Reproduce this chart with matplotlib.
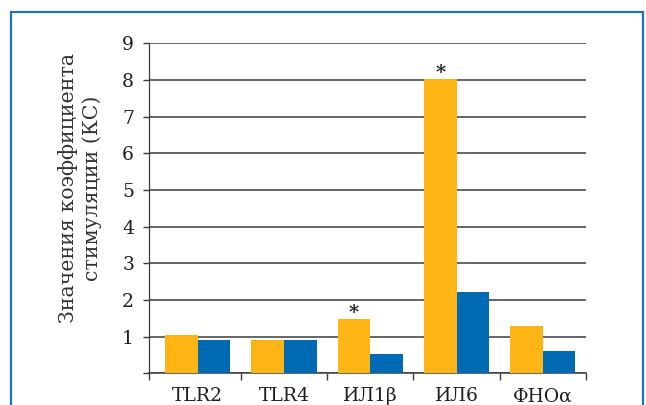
import numpy as np
import matplotlib
matplotlib.use("Agg")
import matplotlib.pyplot as plt
from matplotlib.patches import Rectangle

categories = ["TLR2", "TLR4", "ИЛ1β", "ИЛ6", "ФНОα"]
series_a = [1.04, 0.92, 1.47, 8.03, 1.30]
series_b = [0.92, 0.92, 0.52, 2.22, 0.61]
marks_a = ["", "", "*", "*", ""]
y_ticks = [0, 1, 2, 3, 4, 5, 6, 7, 8, 9]
y_label = "Значения коэффициента\nстимуляции (КС)"

ORANGE = "#FDB515"
BLUE = "#006AB5"
FRAME = "#1C72BE"
LINE = "#3c3c3c"

plt.rcParams["font.family"] = ["DejaVu Serif"]

W, H = 646, 405
fig = plt.figure(figsize=(W / 100, H / 100), dpi=100)
fig.patch.set_facecolor("white")

# plot area in pixel terms
left, right, top, bottom = 149, 586, 43.3, 373.3
ax = fig.add_axes([left / W, 1 - bottom / H, (right - left) / W, (bottom - top) / H])

x = np.arange(len(categories))
w = 0.377
bars_a = ax.bar(x - w / 2, series_a, width=w, color=ORANGE, zorder=3)
ax.bar(x + w / 2, series_b, width=w, color=BLUE, zorder=3)

for rect, mark in zip(bars_a, marks_a):
    if mark:
        ax.annotate(mark, (rect.get_x() + rect.get_width() / 2, rect.get_height()),
                    xytext=(0, -2), textcoords="offset points",
                    ha="center", va="bottom", fontsize=14, fontweight="bold",
                    color="#222222")

ax.set_xlim(-0.565, 4.5)
ax.set_ylim(0, 9)

ax.set_yticks(y_ticks)
ax.set_yticklabels(["" if t == 0 else str(t) for t in y_ticks])
ax.yaxis.grid(True, color=LINE, linewidth=1.1, zorder=0)
ax.set_axisbelow(True)

ax.set_xticks(x)
ax.set_xticklabels(categories)
ax.set_xticks([-0.565, 0.5, 1.5, 2.5, 3.5, 4.5], minor=True)

ax.tick_params(axis="y", length=4.3, width=1.0, color=LINE, pad=6.5,
               labelsize=13.5, labelcolor="#1e1e1e")
ax.tick_params(axis="x", which="major", length=0, pad=10,
               labelsize=13.5, labelcolor="#1e1e1e")
ax.tick_params(axis="x", which="minor", length=5, width=1.0, color=LINE)

for side in ["top", "right"]:
    ax.spines[side].set_visible(False)
ax.spines["left"].set_color(LINE)
ax.spines["left"].set_linewidth(0.9)
ax.spines["bottom"].set_color(LINE)
ax.spines["bottom"].set_linewidth(1.1)

fig.text(80 / W, 1 - 188 / H, y_label, rotation=90, ha="center", va="center",
         fontsize=14.8, linespacing=1.25, color="#333333")

# blue frame around the figure, open past the lower edge
frame = Rectangle((10.8 / W, -0.1), (642.5 - 10.8) / W, 1.1 - 12.5 / H,
                  transform=fig.transFigure, fill=False,
                  edgecolor=FRAME, linewidth=1.6, zorder=10)
fig.patches.append(frame)

fig.savefig("out.png", dpi=100)
